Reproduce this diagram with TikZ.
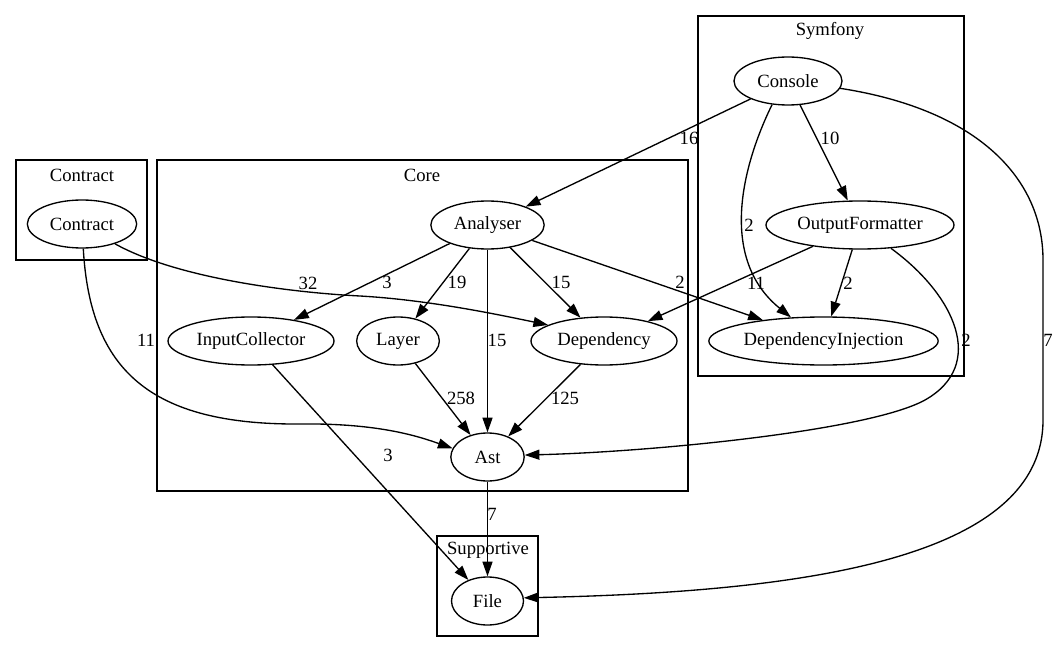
\documentclass[tikz,border=0pt]{standalone}
\usepackage{fontspec}
\setmainfont{Liberation Serif}
\usetikzlibrary{shapes.geometric,arrows.meta}
\begin{document}
\begin{tikzpicture}[x=0.75pt,y=-0.75pt,
  nd/.style={draw, ellipse, inner sep=0pt, minimum height=36pt, line width=1pt, font=\fontsize{14pt}{16pt}\selectfont},
  edge/.style={line width=1pt, -{Triangle[length=11pt,width=7.5pt]}},
  lbl/.style={inner sep=0pt, font=\fontsize{14pt}{16pt}\selectfont},
  cluster/.style={draw, line width=1pt}]
\useasboundingbox (0,0) rectangle (1059,652);
% clusters
\draw[cluster] (16,160) rectangle (147,260);
\node[lbl] (cContract) at (82,175) {Contract};
\draw[cluster] (157,160) rectangle (688,491);
\node[lbl] (cCore) at (422,175) {Core};
\draw[cluster] (698,16) rectangle (964,376);
\node[lbl] (cSymfony) at (830,31) {Symfony};
\draw[cluster] (437,536) rectangle (538,636);
\node[lbl] (cSupportive) at (488,550) {Supportive};
% nodes
\node[nd, minimum width=82pt] (Contract) at (82,224) {Contract};
\node[nd, minimum width=85pt] (Analyser) at (487.5,225) {Analyser};
\node[nd, minimum width=124.5pt] (InputCollector) at (251,341) {InputCollector};
\node[nd, minimum width=62pt] (Layer) at (398,341) {Layer};
\node[nd, minimum width=109.5pt] (Dependency) at (604,341) {Dependency};
\node[nd, minimum width=55pt] (Ast) at (487.5,457) {Ast};
\node[nd, minimum width=81pt] (Console) at (788,81) {Console};
\node[nd, minimum width=141pt] (OutputFormatter) at (860,225) {OutputFormatter};
\node[nd, minimum width=172pt] (DependencyInjection) at (823.5,341) {DependencyInjection};
\node[nd, minimum width=54pt] (File) at (487.5,601) {File};
% straight edges
\draw[edge] (Console) -- (Analyser);
\draw[edge] (Console) -- (OutputFormatter);
\draw[edge] (OutputFormatter) -- (Dependency);
\draw[edge] (OutputFormatter) -- (DependencyInjection);
\draw[edge] (Analyser) -- (InputCollector);
\draw[edge] (Analyser) -- (Layer);
\draw[edge] (Analyser.south) -- (Ast.north);
\draw[edge] (Analyser) -- (Dependency);
\draw[edge] (Analyser) -- (DependencyInjection);
\draw[edge] (Layer) -- (Ast);
\draw[edge] (Dependency) -- (Ast);
\draw[edge] (InputCollector) -- (File);
\draw[edge] (Ast) -- (File);
% curved edges
\draw[edge] (Console.-124) .. controls (740,170) and (720,260) .. (DependencyInjection.144);
\draw[edge] (Console.-8) .. controls (980,110) and (1043,180) .. (1043,260) -- (1043,420) .. controls (1043,560) and (800,592) .. (File.5);
\draw[edge] (OutputFormatter.-37.5) .. controls (955,295) and (987,365) .. (925,400) .. controls (869,431) and (650,452) .. (Ast.3);
\draw[edge] (Contract.-31) .. controls (180,280) and (300,293) .. (360,296) .. controls (430,300) and (500,315) .. (Dependency.164);
\draw[edge] (Contract.-87) .. controls (90,370) and (150,425) .. (300,424) .. controls (380,423) and (420,437) .. (Ast.166);
% edge labels
\node[lbl] (l1) at (689,138) {16};
\node[lbl] (l2) at (830,138) {10};
\node[lbl] (l3) at (749,225) {2};
\node[lbl] (l4) at (1048,340) {7};
\node[lbl] (l5) at (756,283) {11};
\node[lbl] (l6) at (848,283) {2};
\node[lbl] (l7) at (966,340) {2};
\node[lbl] (l8) at (387,282) {3};
\node[lbl] (l9) at (457,282) {19};
\node[lbl] (l10) at (497,340) {15};
\node[lbl] (l11) at (561,282) {15};
\node[lbl] (l12) at (680,282) {2};
\node[lbl] (l13) at (308,283) {32};
\node[lbl] (l14) at (146,340) {11};
\node[lbl] (l15) at (461,398) {258};
\node[lbl] (l16) at (565,398) {125};
\node[lbl] (l17) at (388,455) {3};
\node[lbl] (l18) at (492,514) {7};
\end{tikzpicture}
\end{document}
